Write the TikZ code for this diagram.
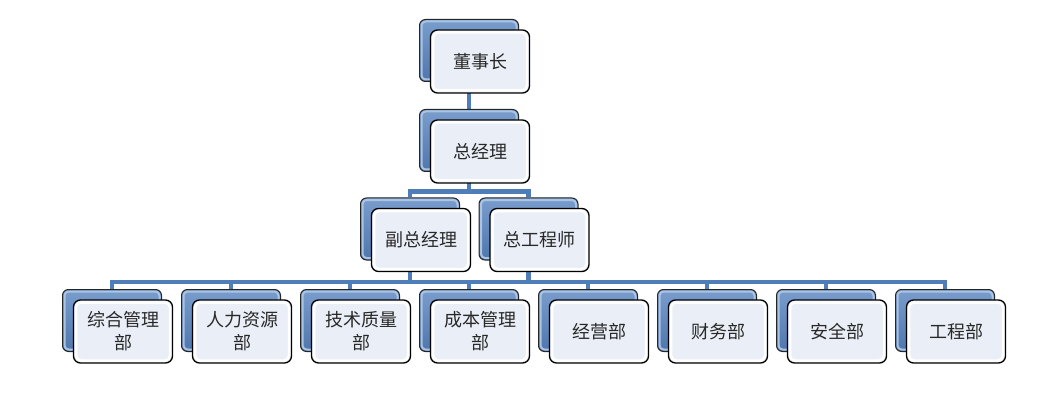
\documentclass[tikz,border=0pt]{standalone}
\usepackage{fontspec}
\usepackage{xcolor}
\newfontfamily\cjk{Noto Sans CJK SC}
\usetikzlibrary{backgrounds}
\definecolor{linkblue}{RGB}{79,125,184}
\definecolor{backblue}{RGB}{88,132,192}
\definecolor{backlight}{RGB}{170,196,228}
\definecolor{frontfill}{RGB}{234,239,247}
\definecolor{textgray}{RGB}{40,40,40}

\tikzset{
  backbox/.style={draw=black!85, line width=1pt, rounded corners=6pt,
    minimum width=99pt, minimum height=62pt,
    top color=backblue!80!white, bottom color=backblue!90!black,
    path picture={\draw[backlight, line width=2pt, rounded corners=4pt]
      ([shift={(2pt,2pt)}]path picture bounding box.south west) rectangle
      ([shift={(-2pt,-2pt)}]path picture bounding box.north east);}},
  frontbox/.style={draw=black, line width=1.3pt, rounded corners=7pt,
    minimum width=99pt, minimum height=63pt, fill=frontfill,
    path picture={\draw[white, line width=2.5pt, rounded corners=5pt]
      ([shift={(2.5pt,2.5pt)}]path picture bounding box.south west) rectangle
      ([shift={(-2.5pt,-2.5pt)}]path picture bounding box.north east);},
    text=textgray, font=\cjk\fontsize{18}{23}\selectfont,
    align=center, inner sep=0pt},
  link/.style={draw=linkblue, line width=4.5pt}
}

\begin{document}
\begin{tikzpicture}[x=1pt,y=-1pt]
  \useasboundingbox (0,0) rectangle (1054,406);

  % top
  \node[backbox] (dsz) at (469,50.5) {};
  \node[frontbox] (dsz-t) at ([shift={(11pt,-11pt)}]dsz.center) {董事长};
  \node[backbox] (zjl) at (469,140.5) {};
  \node[frontbox] (zjl-t) at ([shift={(11pt,-11pt)}]zjl.center) {总经理};

  % middle
  \node[backbox] (fzjl) at (410,229) {};
  \node[frontbox] (fzjl-t) at ([shift={(11pt,-11pt)}]fzjl.center) {副总经理};
  \node[backbox] (zgcs) at (528.5,229) {};
  \node[frontbox] (zgcs-t) at ([shift={(11pt,-11pt)}]zgcs.center) {总工程师};

  % departments
  \foreach \name/\txt [count=\i from 0] in {zh/综合管理\\部, rl/人力资源\\部,
      js/技术质量\\部, cb/成本管理\\部, jy/经营部, cw/财务部, aq/安全部, gc/工程部} {
    \node[backbox] (\name) at ({112+119*\i},320.5) {};
    \node[frontbox] (\name-t) at ([shift={(11pt,-11pt)}]\name.center) {\txt};
  }

  % lines
  \begin{scope}[on background layer]
    \draw[link] (dsz.south) -- (zjl.north);
    \draw[link] (zjl.south) -- ++(0,19.5) -| (fzjl.north);
    \draw[link] (zjl.south) -- ++(0,19.5) -| (zgcs.north);
    \foreach \name in {zh,rl,js,cb,jy,cw,aq,gc}
      \draw[link] (fzjl.south) -- ++(0,21.5) -| (\name.north);
    \draw[link] (zgcs.south) -- ++(0,21.5);
  \end{scope}
\end{tikzpicture}
\end{document}
